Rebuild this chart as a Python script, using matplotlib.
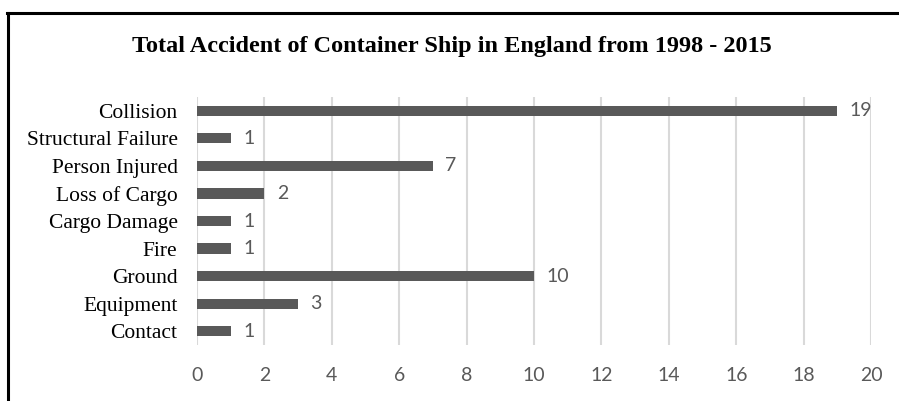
import matplotlib.pyplot as plt
from matplotlib.lines import Line2D

categories = ['Collision', 'Structural Failure', 'Person Injured', 'Loss of Cargo',
              'Cargo Damage', 'Fire', 'Ground', 'Equipment', 'Contact']
counts = [19, 1, 7, 2, 1, 1, 10, 3, 1]
xticks = [0, 2, 4, 6, 8, 10, 12, 14, 16, 18, 20]

fig = plt.figure(figsize=(8.99, 4.01), dpi=100)
ax = fig.add_axes([0.2191, 0.1397, 0.7498, 0.6183])

pos = list(range(len(categories)))[::-1]
ax.barh(pos, counts, height=0.37, color='#595959', zorder=3)
for p, c in zip(pos, counts):
    ax.annotate(str(c), (c, p), xytext=(9, 0), textcoords='offset points',
                va='center', ha='left', fontsize=14, color='#595959', family='Lato')

ax.set_xlim(0, 20)
ax.set_ylim(-0.5, len(categories) - 0.5)
ax.set_xticks(xticks)
ax.set_xticklabels([str(t) for t in xticks], fontsize=14, color='#595959', family='Lato')
ax.set_yticks(pos)
ax.set_yticklabels(categories, fontsize=15.5, family='Liberation Serif')
ax.tick_params(length=0)
ax.tick_params(axis='y', pad=14)
ax.tick_params(axis='x', pad=16)
ax.grid(axis='x', color='#d9d9d9', linewidth=1.5, zorder=0)
for s in ax.spines.values():
    s.set_visible(False)

fig.text(0.503, 0.885, 'Total Accident of Container Ship in England from 1998 - 2015',
         ha='center', va='center', fontsize=17.5, fontweight='bold', family='Liberation Serif')

# black frame on left and top
fig.add_artist(Line2D([0.0085, 0.0085], [0.0, 0.968], color='black', linewidth=2.2,
                      transform=fig.transFigure))
fig.add_artist(Line2D([0.0075, 1.0], [0.968, 0.968], color='black', linewidth=2.2,
                      transform=fig.transFigure))

fig.savefig('out.png', dpi=100)
